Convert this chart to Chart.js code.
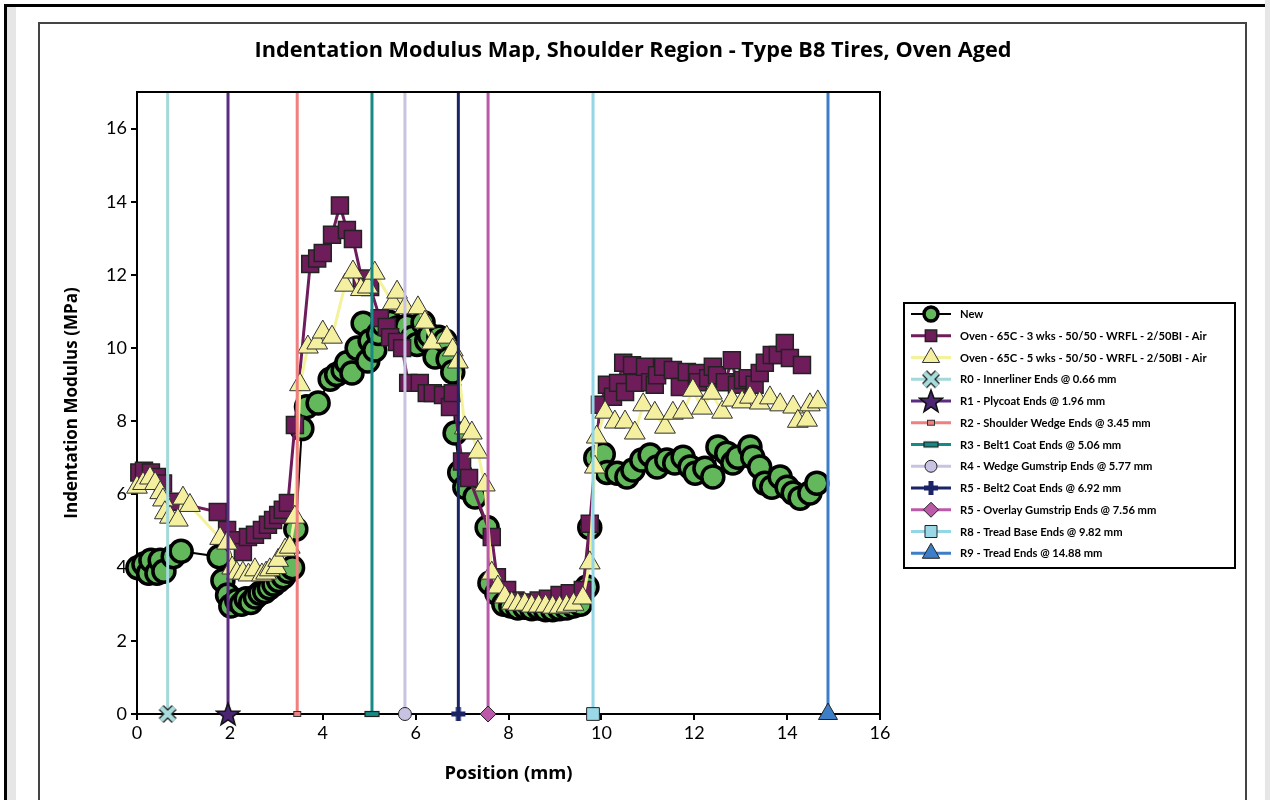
<!DOCTYPE html>
<html lang="en">
<head>
<meta charset="UTF-8">
<title>Indentation Modulus Map</title>
<script src="https://cdn.jsdelivr.net/npm/chart.js@4"></script>
<style>
  body {
    margin: 0;
    width: 1270px;
    height: 800px;
    overflow: hidden;
    position: relative;
    background: #fff;
    font-family: Lato, sans-serif;
  }
  .edge { position: absolute; }
  #frame {
    position: absolute;
    left: 38px;
    top: 22px;
    width: 1205px;
    height: 820px;
    border: 2px solid #444;
  }
  #chart { position: absolute; left: 0; top: 0; }
</style>
</head>
<body>
<div class="edge" style="left:4px;top:4px;width:1261px;height:3px;background:#000"></div>
<div class="edge" style="left:4px;top:4px;width:3px;height:796px;background:#000"></div>
<div class="edge" style="left:7px;top:7px;width:9px;height:793px;background:#e6e6e6"></div>
<div class="edge" style="left:1265px;top:0;width:5px;height:800px;background:#e6e6e6"></div>
<div id="frame"></div>
<canvas id="chart" width="1270" height="800" style="width:1270px;height:800px"></canvas>

<script>
// --- data ---
var newX = [0.02, 0.15, 0.25, 0.3, 0.43, 0.5, 0.58, 0.78, 0.95, 1.77, 1.85, 1.95, 2.02, 2.15, 2.25, 2.35, 2.45, 2.55, 2.65, 2.75,
  2.85, 2.95, 3.05, 3.15, 3.25, 3.35, 3.42, 3.55, 3.65, 3.9, 4.16, 4.3, 4.44, 4.52, 4.63, 4.74, 4.87, 4.97, 5.02, 5.12,
  5.2, 5.3, 5.45, 5.6, 5.72, 5.81, 5.94, 6.03, 6.16, 6.24, 6.3, 6.42, 6.5, 6.63, 6.7, 6.8, 6.85, 6.95, 7.06, 7.28,
  7.54, 7.6, 7.75, 7.9, 8.05, 8.2, 8.35, 8.5, 8.65, 8.8, 8.95, 9.1, 9.25, 9.4, 9.55, 9.69, 9.75, 9.88, 10.04, 10.12,
  10.34, 10.55, 10.68, 10.87, 11.05, 11.2, 11.41, 11.58, 11.76, 11.91, 12.02, 12.23, 12.4, 12.51, 12.7, 12.83, 12.94, 13.2, 13.26, 13.41,
  13.52, 13.67, 13.85, 14.0, 14.13, 14.28, 14.49, 14.64];
var newY = [4.0, 4.1, 3.85, 4.2, 3.85, 4.2, 3.9, 4.3, 4.45, 4.3, 3.65, 3.25, 2.95, 3.1, 3.0, 3.15, 3.05, 3.2, 3.3, 3.35,
  3.45, 3.55, 3.65, 3.75, 3.9, 4.0, 5.05, 7.8, 8.4, 8.5, 9.15, 9.28, 9.4, 9.6, 9.32, 10.0, 10.68, 9.65, 10.2, 9.95,
  10.4, 10.65, 10.7, 10.55, 10.45, 10.6, 10.3, 10.1, 10.7, 10.2, 10.35, 9.76, 10.3, 10.2, 9.7, 9.35, 7.68, 6.6, 6.2, 5.93,
  5.1, 3.58, 3.3, 3.0, 2.95, 2.9, 2.92, 2.88, 2.9, 2.85, 2.85, 2.88, 2.9, 2.95, 3.0, 3.47, 5.1, 7.0, 7.1, 6.6,
  6.58, 6.48, 6.67, 6.94, 7.08, 6.75, 6.94, 6.86, 7.02, 6.75, 6.58, 6.72, 6.48, 7.3, 7.13, 6.86, 7.02, 7.3, 7.02, 6.75,
  6.31, 6.2, 6.48, 6.2, 6.04, 5.9, 6.04, 6.31];

var oven3X = [0.05, 0.15, 0.3, 0.43, 0.56, 0.78, 1.74, 1.94, 2.1, 2.28, 2.39, 2.54, 2.69, 2.82, 2.93, 3.04, 3.14, 3.25, 3.4, 3.73,
  3.88, 4.0, 4.2, 4.37, 4.52, 4.65, 4.84, 5.02, 5.23, 5.38, 5.45, 5.6, 5.71, 5.84, 6.09, 6.24, 6.37, 6.59, 6.74, 6.8,
  7.0, 7.15, 7.64, 7.75, 7.97, 8.15, 8.4, 8.65, 8.85, 9.1, 9.32, 9.6, 9.75, 9.97, 10.12, 10.25, 10.36, 10.47, 10.51, 10.66,
  10.72, 10.94, 11.05, 11.15, 11.2, 11.33, 11.54, 11.69, 11.84, 12.06, 12.08, 12.3, 12.4, 12.49, 12.66, 12.81, 12.92, 13.05, 13.15, 13.3,
  13.41, 13.52, 13.67, 13.8, 13.95, 14.06, 14.32];
var oven3Y = [6.6, 6.65, 6.6, 6.48, 6.3, 5.8, 5.52, 5.03, 4.75, 4.43, 4.84, 4.9, 5.03, 5.17, 5.3, 5.44, 5.58, 5.77, 7.9, 12.3,
  12.45, 12.6, 13.1, 13.9, 13.23, 12.98, 11.9, 11.67, 10.82, 10.58, 10.3, 10.17, 10.0, 9.05, 9.05, 8.77, 8.77, 8.72, 8.39, 8.77,
  6.9, 6.45, 4.84, 3.74, 3.39, 3.1, 3.05, 3.1, 3.15, 3.25, 3.3, 3.39, 5.2, 8.45, 9.0, 8.67, 9.05, 9.6, 8.8, 9.53,
  9.05, 9.49, 9.07, 9.0, 9.26, 9.49, 9.4, 8.94, 9.35, 9.32, 9.07, 9.18, 9.49, 9.26, 9.07, 9.67, 9.0, 9.13, 9.18, 9.0,
  9.32, 9.6, 9.81, 9.81, 10.14, 9.73, 9.54];

var oven5X = [0.0, 0.13, 0.28, 0.39, 0.5, 0.56, 0.6, 0.71, 0.88, 0.99, 1.14, 1.79, 1.94, 2.05, 2.15, 2.28, 2.4, 2.54, 2.69, 2.78,
  2.86, 3.0, 3.04, 3.19, 3.29, 3.4, 3.51, 3.68, 3.88, 4.0, 4.2, 4.48, 4.65, 4.82, 4.97, 5.12, 5.51, 5.6, 5.77, 6.05,
  6.2, 6.35, 6.67, 6.8, 6.91, 7.06, 7.21, 7.34, 7.49, 7.64, 7.77, 7.92, 8.07, 8.2, 8.35, 8.5, 8.65, 8.8, 8.95, 9.1,
  9.25, 9.4, 9.6, 9.75, 9.86, 9.9, 10.08, 10.29, 10.51, 10.72, 10.9, 11.15, 11.37, 11.54, 11.76, 11.97, 12.17, 12.38, 12.6, 12.81,
  13.03, 13.2, 13.41, 13.63, 13.85, 14.13, 14.23, 14.43, 14.49, 14.66];
var oven5Y = [6.2, 6.3, 6.45, 6.3, 6.05, 5.85, 5.5, 5.38, 5.3, 5.9, 5.7, 4.8, 4.67, 3.99, 3.85, 3.85, 3.8, 3.94, 3.8, 3.85,
  3.94, 4.0, 4.2, 4.48, 4.56, 5.38, 9.0, 10.03, 10.14, 10.44, 10.3, 11.72, 12.08, 11.6, 11.67, 12.05, 11.23, 11.53, 11.1, 11.1,
  10.71, 10.14, 10.3, 9.95, 9.62, 7.82, 7.68, 7.16, 6.26, 3.85, 3.47, 3.2, 3.03, 3.0, 3.0, 2.95, 2.95, 2.95, 2.92, 2.92,
  2.95, 3.0, 3.17, 4.13, 6.75, 7.57, 8.25, 7.98, 7.98, 7.68, 8.45, 8.22, 7.84, 8.22, 8.25, 8.85, 8.36, 8.77, 8.25, 8.58,
  8.53, 8.66, 8.5, 8.64, 8.45, 8.39, 8.0, 8.03, 8.45, 8.53];

var seriesNames = ['New', 'Oven - 65C - 3 wks - 50/50 - WRFL - 2/50BI - Air', 'Oven - 65C - 5 wks - 50/50 - WRFL - 2/50BI - Air'];
var refNames = ['R0 - Innerliner Ends @ 0.66 mm', 'R1 - Plycoat Ends @ 1.96 mm', 'R2 - Shoulder Wedge Ends @ 3.45 mm',
  'R3 - Belt1 Coat Ends @ 5.06 mm', 'R4 - Wedge Gumstrip Ends @ 5.77 mm', 'R5 - Belt2 Coat Ends @ 6.92 mm',
  'R5 - Overlay Gumstrip Ends @ 7.56 mm', 'R8 - Tread Base Ends @ 9.82 mm', 'R9 - Tread Ends @ 14.88 mm'];
var refPos = [0.66, 1.96, 3.45, 5.06, 5.77, 6.92, 7.56, 9.82, 14.88];
var xTicks = [0, 2, 4, 6, 8, 10, 12, 14, 16];
var yTicks = [0, 2, 4, 6, 8, 10, 12, 14, 16];
var yMax = 17;

var FONT = 'Lato, sans-serif';
var TITLE_FONT = '"Open Sans", sans-serif';

// custom marker images
function marker(w, h, draw) {
  var c = document.createElement('canvas');
  c.width = w; c.height = h;
  draw(c.getContext('2d'), w / 2, h / 2);
  return c;
}
var xMark = marker(20, 20, function (g, cx, cy) {
  g.lineCap = 'butt';
  [['#222', 7], ['#a8dcdc', 4.5]].forEach(function (s) {
    g.strokeStyle = s[0]; g.lineWidth = s[1];
    g.beginPath();
    g.moveTo(cx - 6.5, cy - 6.5); g.lineTo(cx + 6.5, cy + 6.5);
    g.moveTo(cx + 6.5, cy - 6.5); g.lineTo(cx - 6.5, cy + 6.5);
    g.stroke();
  });
});
var starMark = marker(26, 26, function (g, cx, cy) {
  g.beginPath();
  for (var i = 0; i < 10; i++) {
    var r = i % 2 ? 5 : 12;
    var a = -Math.PI / 2 + i * Math.PI / 5;
    g.lineTo(cx + r * Math.cos(a), cy + 1 + r * Math.sin(a));
  }
  g.closePath();
  g.fillStyle = '#4b2472'; g.fill();
  g.strokeStyle = '#111'; g.lineWidth = 1.5; g.stroke();
});
var plusMark = marker(18, 18, function (g, cx, cy) {
  g.fillStyle = '#1b2467';
  g.fillRect(cx - 7, cy - 2.5, 14, 5);
  g.fillRect(cx - 2.5, cy - 7, 5, 14);
});
var smallRect = marker(12, 10, function (g, cx, cy) {
  g.fillStyle = '#f07f7f'; g.fillRect(cx - 3.5, cy - 2.5, 7, 5);
  g.strokeStyle = '#333'; g.lineWidth = 1; g.strokeRect(cx - 3.5, cy - 2.5, 7, 5);
});
var flatRect = marker(18, 10, function (g, cx, cy) {
  g.fillStyle = '#168a85'; g.fillRect(cx - 7, cy - 2.5, 14, 5);
  g.strokeStyle = '#222'; g.lineWidth = 1.2; g.strokeRect(cx - 7, cy - 2.5, 14, 5);
});

// styles for reference lines
var refStyles = [
  { color: '#a3d9d9', point: xMark, fill: '#a8dcdc', r: 8, lr: 8 },
  { color: '#5a2d81', point: starMark, fill: '#4b2472', r: 8, lr: 8 },
  { color: '#f07f7f', point: smallRect, fill: '#f07f7f', r: 4, lr: 4 },
  { color: '#168a85', point: flatRect, fill: '#168a85', r: 6, lr: 6 },
  { color: '#c9c3e3', point: 'circle', fill: '#c9c3e3', r: 6.5, lr: 6 },
  { color: '#1b2467', point: plusMark, fill: '#1b2467', r: 7, lr: 7 },
  { color: '#bb5aa8', point: 'rectRot', fill: '#bb5aa8', r: 8, lr: 7.5 },
  { color: '#93d6e6', point: 'rect', fill: '#9ad8e8', r: 9, lr: 8.5 },
  { color: '#3d7ec6', point: 'triangle', fill: '#3d7ec6', r: 11, lr: 10 }
];

function pts(xs, ys) {
  return xs.map(function (x, i) { return { x: x, y: ys[i] }; });
}

var datasets = [
  {
    label: seriesNames[0], data: pts(newX, newY), showLine: true,
    borderColor: '#000', borderWidth: 2,
    pointStyle: 'circle', pointRadius: 11, pointBorderWidth: 3.5,
    pointBackgroundColor: '#62b85a', pointBorderColor: '#000',
    legendRadius: 7, legendLine: 2, order: 3, clip: false
  },
  {
    label: seriesNames[1], data: pts(oven3X, oven3Y), showLine: true,
    borderColor: '#6f1c5b', borderWidth: 3,
    pointStyle: 'rect', pointRadius: 12, pointBorderWidth: 1.5,
    pointBackgroundColor: '#6f1c5b', pointBorderColor: '#222',
    legendRadius: 8, legendLine: 3, order: 2, clip: false
  },
  {
    label: seriesNames[2], data: pts(oven5X, oven5Y), showLine: true,
    borderColor: '#f5f29c', borderWidth: 3,
    pointStyle: 'triangle', pointRadius: 12, pointBorderWidth: 1,
    pointBackgroundColor: '#f4f0a0', pointBorderColor: '#333',
    legendRadius: 10, legendLine: 3, order: 1, clip: false
  }
];

refPos.forEach(function (p, i) {
  var s = refStyles[i];
  datasets.push({
    label: refNames[i], data: [{ x: p, y: 0 }, { x: p, y: yMax }], showLine: true,
    borderColor: s.color, borderWidth: 3,
    pointStyle: s.point, pointRadius: [s.r, 0], pointBorderWidth: 1,
    pointBackgroundColor: s.fill, pointBorderColor: '#222',
    legendRadius: s.lr, legendLine: 3, order: 0, clip: false
  });
});

// frame, title and legend
var decor = {
  id: 'decor',
  afterDraw: function (chart) {
    var ctx = chart.ctx, a = chart.chartArea;
    ctx.save();
    ctx.strokeStyle = '#000';
    ctx.lineWidth = 2;
    ctx.beginPath();
    ctx.moveTo(a.left, a.top); ctx.lineTo(a.right, a.top); ctx.lineTo(a.right, a.bottom);
    ctx.stroke();

    ctx.fillStyle = '#000';
    ctx.font = 'bold 21.7px ' + TITLE_FONT;
    ctx.textAlign = 'center';
    ctx.textBaseline = 'middle';
    ctx.fillText('Indentation Modulus Map, Shoulder Region - Type B8 Tires, Oven Aged', 633, 51);

    // legend
    var bx = 904, by = 303, bw = 331, bh = 265;
    ctx.lineWidth = 2;
    ctx.strokeRect(bx, by, bw, bh);
    ctx.font = 'bold 11.2px ' + FONT;
    ctx.textAlign = 'left';
    chart.data.datasets.forEach(function (ds, i) {
      var y = 314 + i * 21.75;
      ctx.strokeStyle = ds.borderColor;
      ctx.lineWidth = ds.legendLine;
      ctx.beginPath();
      ctx.moveTo(911, y); ctx.lineTo(951, y);
      ctx.stroke();
      ctx.fillStyle = ds.pointBackgroundColor;
      ctx.strokeStyle = ds.pointBorderColor;
      ctx.lineWidth = ds.pointBorderWidth;
      Chart.helpers.drawPoint(ctx, {
        pointStyle: ds.pointStyle, radius: ds.legendRadius,
        borderWidth: ds.pointBorderWidth, rotation: 0
      }, 931, y);
      ctx.fillStyle = '#000';
      ctx.fillText(ds.label, 960, y + 0.5);
    });
    ctx.restore();
  }
};

new Chart(document.getElementById('chart'), {
  type: 'scatter',
  data: { datasets: datasets },
  plugins: [decor],
  options: {
    responsive: false,
    animation: false,
    layout: { padding: { left: 60, top: 92, right: 390, bottom: 14 } },
    plugins: {
      legend: { display: false },
      title: { display: false },
      tooltip: { enabled: false }
    },
    scales: {
      x: {
        type: 'linear', min: xTicks[0], max: xTicks[xTicks.length - 1],
        afterFit: function (s) { s.height = 72; },
        afterBuildTicks: function (s) { s.ticks = xTicks.map(function (v) { return { value: v }; }); },
        ticks: { font: { family: FONT, size: 18 }, color: '#000', padding: 2, maxRotation: 0 },
        grid: { drawOnChartArea: false, color: '#000', lineWidth: 2, tickLength: 6 },
        border: { color: '#000', width: 2 },
        title: {
          display: true, text: 'Position (mm)', color: '#000',
          font: { family: TITLE_FONT, size: 18.4, weight: 'bold' }, padding: { top: 4, bottom: 1 }
        }
      },
      y: {
        type: 'linear', min: 0, max: yMax,
        afterFit: function (s) { s.width = 77; },
        afterBuildTicks: function (s) { s.ticks = yTicks.map(function (v) { return { value: v }; }); },
        ticks: { font: { family: FONT, size: 18 }, color: '#000', padding: 4 },
        grid: { drawOnChartArea: false, color: '#000', lineWidth: 2, tickLength: 6 },
        border: { color: '#000', width: 2 },
        title: {
          display: true, text: 'Indentation Modulus (MPa)', color: '#000',
          font: { family: TITLE_FONT, size: 17, weight: 'bold' }, padding: { top: 2, bottom: 3 }
        }
      }
    }
  }
});
</script>
</body>
</html>
